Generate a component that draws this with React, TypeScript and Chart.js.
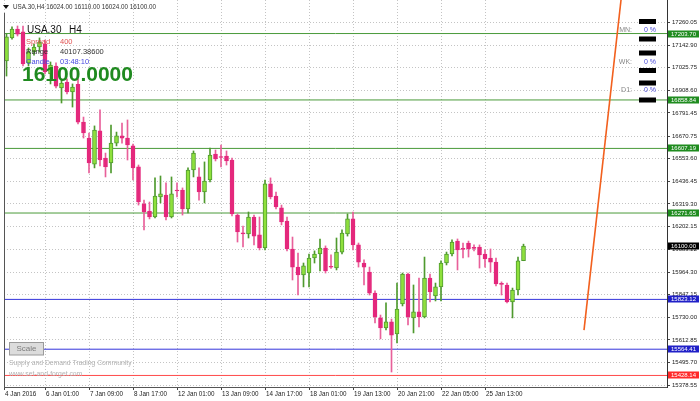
import React, { useEffect, useRef } from "react";
import { Chart, registerables } from "chart.js";

Chart.register(...registerables);

// ---------- data ----------
const symbol = "USA.30";
const timeframe = "H4";

const xTickPositions = [-0.455, 7, 15, 23, 31, 39, 47, 55, 63, 71, 79, 87];
const xTickLabels = [
  "4 Jan 2016", "6 Jan 01:00", "7 Jan 09:00", "8 Jan 17:00", "12 Jan 01:00", "13 Jan 09:00",
  "14 Jan 17:00", "18 Jan 01:00", "19 Jan 13:00", "20 Jan 21:00", "22 Jan 05:00", "25 Jan 13:00",
];

const yTicks = [
  17260.05, 17142.9, 17025.75, 16908.6, 16791.45, 16670.75, 16553.6, 16436.45, 16319.3,
  16202.15, 16083.22, 15964.3, 15847.15, 15730.0, 15612.85, 15495.7, 15378.55,
];

const opens = [
  17061, 17181, 17227, 17212, 17051, 17108, 17134, 17149, 16994, 17035,
  16921, 16952, 16900, 16940, 16744, 16661, 16526, 16698, 16557, 16532,
  16635, 16672, 16661, 16620, 16511, 16319, 16282, 16251, 16355, 16365,
  16251, 16391, 16391, 16293, 16495, 16459, 16381, 16443, 16578, 16563,
  16568, 16547, 16261, 16168, 16163, 16251, 16158, 16090, 16423, 16360,
  16298, 16230, 16085, 15991, 15950, 15960, 16038, 16059, 16090, 15994,
  15986, 16069, 16163, 16241, 16106, 16012, 15965, 15856, 15727, 15675,
  15706, 15644, 15799, 15955, 15727, 15758, 15732, 15934, 15841, 15888,
  16012, 16059, 16126, 16087, 16116, 16092, 16095, 16059, 16038, 16017,
  15905, 15898, 15810, 15872, 16024,
];
const highs = [
  17201, 17238, 17243, 17243, 17129, 17149, 17181, 17170, 17056, 17051,
  16962, 16968, 16942, 16968, 16770, 16687, 16724, 16807, 16583, 16729,
  16692, 16739, 16755, 16630, 16521, 16339, 16329, 16454, 16464, 16428,
  16459, 16428, 16402, 16506, 16594, 16506, 16537, 16609, 16599, 16625,
  16594, 16557, 16267, 16204, 16277, 16261, 16251, 16443, 16454, 16381,
  16313, 16251, 16147, 16064, 16012, 16059, 16075, 16137, 16101, 16054,
  16142, 16184, 16267, 16277, 16116, 16028, 15991, 15867, 15742, 15805,
  15721, 15908, 15960, 15960, 15898, 15934, 16043, 15955, 15908, 16023,
  16069, 16132, 16137, 16116, 16126, 16106, 16106, 16080, 16085, 16038,
  15914, 15908, 15882, 16043, 16110,
];
const lows = [
  16983, 17175, 17191, 17035, 17035, 17092, 17108, 16994, 16942, 16921,
  16843, 16890, 16822, 16734, 16661, 16480, 16506, 16516, 16459, 16480,
  16620, 16635, 16547, 16443, 16313, 16184, 16241, 16246, 16324, 16236,
  16246, 16355, 16261, 16272, 16459, 16339, 16324, 16433, 16542, 16511,
  16521, 16256, 16121, 16095, 16142, 16106, 16080, 16080, 16345, 16293,
  16210, 16075, 15924, 15846, 15888, 15888, 16012, 15971, 15960, 15984,
  15976, 16059, 16152, 16080, 15991, 15898, 15846, 15701, 15618, 15664,
  15446, 15597, 15789, 15690, 15649, 15680, 15727, 15810, 15815, 15815,
  16002, 16049, 15976, 16038, 16043, 16075, 15986, 15991, 15965, 15893,
  15846, 15805, 15727, 15846, 16024,
];
const closes = [
  17186, 17227, 17201, 17046, 17108, 17134, 17160, 17004, 17040, 16931,
  16947, 16900, 16926, 16744, 16687, 16532, 16703, 16547, 16511, 16635,
  16672, 16661, 16625, 16506, 16329, 16277, 16251, 16360, 16371, 16251,
  16371, 16386, 16293, 16495, 16583, 16381, 16438, 16573, 16552, 16560,
  16542, 16267, 16173, 16163, 16251, 16152, 16090, 16423, 16355, 16303,
  16225, 16085, 15991, 15950, 15997, 16038, 16059, 16090, 15971, 15990,
  16069, 16168, 16241, 16106, 16017, 15991, 15856, 15732, 15675, 15706,
  15638, 15773, 15955, 15732, 15758, 15732, 15934, 15862, 15888, 16012,
  16059, 16121, 16080, 16083, 16085, 16088, 16054, 16033, 16017, 15903,
  15901, 15810, 15872, 16023, 16100,
];

const greenLevels = [17203.7, 16858.84, 16607.19, 16271.65];
const blueLevels = [15823.12, 15564.41];
const redLevels = [15428.14];

// projection line (bar index, price)
const projX = [105.0, 111.73];
const projY = [15664, 17378];

const infoSpread = "400";
const infoRange = "40107.38600";
const infoCandle = "03:48:10";
const panelLabels = ["MN:", "WK:", "D1:"];
const panelValues = ["0 %", "0 %", "0 %"];
const footer1 = "Supply and Demand Trading Community";
const footer2 = "www.set-and-forget.com";

// ---------- layout / style ----------
const X_MIN = -0.455;
const X_MAX = 120.09;
const Y_MAX = 17377.9;
const Y_MIN = 15368.2;
const FONT = "'Liberation Sans', Arial, sans-serif";

const GREEN_FILL = "#8ee03c";
const GREEN_EDGE = "#4f9a2e";
const PINK = "#e4287c";
const PINK_WICK = "#e8609a";
const LEVEL_GREEN = "#4a9a3a";
const LEVEL_BLUE = "#3434dc";
const LEVEL_RED = "#ff4a4a";

export default function App() {
  const ref = useRef<HTMLCanvasElement | null>(null);

  useEffect(() => {
    document.body.style.margin = "0";
    const canvas = ref.current;
    if (!canvas) return;

    const idx = closes.map((_, i) => i);
    const up = idx.map((i) => closes[i] >= opens[i]);
    const bodyData = idx.map((i) => ({
      x: i,
      y: [Math.min(opens[i], closes[i]), Math.max(opens[i], closes[i])],
    }));
    const wickData = idx.map((i) => ({ x: i, y: [lows[i], highs[i]] }));

    const levelDs = (p: number, color: string) => ({
      type: "line" as const,
      data: [
        { x: X_MIN, y: p },
        { x: X_MAX, y: p },
      ],
      borderColor: color,
      borderWidth: 1,
      pointRadius: 0,
      order: 6,
    });

    const last = closes.length - 1;

    const overlay = {
      id: "overlay",
      afterDraw(chart: any) {
        const c = chart.ctx as CanvasRenderingContext2D;
        const ys = chart.scales.y;
        const area = chart.chartArea;
        c.save();
        // left frame
        c.strokeStyle = "#555";
        c.lineWidth = 1;
        c.beginPath();
        c.moveTo(area.left + 0.5, 13);
        c.lineTo(area.left + 0.5, area.bottom);
        c.stroke();

        // header
        c.fillStyle = "#111";
        c.beginPath();
        c.moveTo(3, 5);
        c.lineTo(9, 5);
        c.lineTo(6, 9);
        c.closePath();
        c.fill();
        c.font = `6.3px ${FONT}`;
        c.fillStyle = "#333";
        c.textBaseline = "middle";
        c.textAlign = "left";
        c.fillText(
          `${symbol},${timeframe} ${opens[last].toFixed(2)} ${highs[last].toFixed(2)} ${lows[last].toFixed(2)} ${closes[last].toFixed(2)}`,
          13,
          7
        );

        // info block
        c.font = `10px ${FONT}`;
        c.fillStyle = "#111";
        c.fillText(symbol, 27, 30);
        c.fillText(timeframe, 69, 30);
        c.font = `7.5px ${FONT}`;
        c.fillStyle = "#e05252";
        c.fillText("Spread", 26, 42);
        c.fillText(infoSpread, 60, 42);
        c.fillStyle = "#333";
        c.fillText("Range", 26, 52);
        c.fillText(infoRange, 60, 52);
        c.fillStyle = "#4848e0";
        c.fillText("Candle", 26, 61.5);
        c.fillText(infoCandle, 60, 61.5);
        c.font = `bold 21px ${FONT}`;
        c.fillStyle = "#1f8a1f";
        c.fillText(closes[last].toFixed(4), 22, 75);

        // right panel
        const blocksY = [19, 36.5, 50.5, 68, 80.5, 97.5];
        c.fillStyle = "#000";
        blocksY.forEach((y) => c.fillRect(639, y, 17, 5));
        const labY = [30.5, 62, 90.5];
        c.font = `7px ${FONT}`;
        panelLabels.forEach((t, k) => {
          c.textAlign = "right";
          c.fillStyle = "#888";
          c.fillText(t, 632, labY[k]);
          c.textAlign = "left";
          c.fillStyle = "#4a4ad8";
          c.fillText(panelValues[k], 644, labY[k]);
        });

        // scale button and footer texts
        c.fillStyle = "#dcdcdc";
        c.fillRect(9.5, 342.5, 34, 12.5);
        c.strokeStyle = "#9a9a9a";
        c.strokeRect(9.5, 342.5, 34, 12.5);
        c.fillStyle = "#7c7c7c";
        c.font = `8px ${FONT}`;
        c.textAlign = "center";
        c.fillText("Scale", 26.5, 349);
        c.textAlign = "left";
        c.fillStyle = "#b2b2b2";
        c.font = `6.8px ${FONT}`;
        c.fillText(footer1, 9, 363.5);
        c.fillText(footer2, 9, 374.5);

        // price tags on the axis
        const tag = (p: number, color: string) => {
          const y = ys.getPixelForValue(p);
          c.fillStyle = color;
          c.fillRect(668, Math.round(y) - 3.5, 31, 7);
          c.fillStyle = "#fff";
          c.font = `6px ${FONT}`;
          c.textAlign = "left";
          c.fillText(p.toFixed(2), 671, Math.round(y));
        };
        greenLevels.forEach((p) => tag(p, "#1f8c1f"));
        blueLevels.forEach((p) => tag(p, "#2020c8"));
        redLevels.forEach((p) => tag(p, "#ff2a2a"));
        tag(closes[last], "#000");
        c.restore();
      },
    };

    const chart = new Chart(canvas, {
      type: "bar",
      data: {
        datasets: [
          ...greenLevels.map((p) => levelDs(p, LEVEL_GREEN)),
          ...blueLevels.map((p) => levelDs(p, LEVEL_BLUE)),
          ...redLevels.map((p) => levelDs(p, LEVEL_RED)),
          {
            type: "bar",
            data: wickData as any,
            backgroundColor: up.map((u) => (u ? GREEN_EDGE : PINK_WICK)),
            borderWidth: 0,
            barThickness: 1,
            grouped: false,
            minBarLength: 1,
            order: 3,
          } as any,
          {
            type: "bar",
            data: bodyData as any,
            backgroundColor: up.map((u) => (u ? GREEN_FILL : PINK)),
            borderColor: up.map((u) => (u ? GREEN_EDGE : PINK)),
            borderWidth: 1,
            borderSkipped: false,
            barThickness: 4,
            grouped: false,
            minBarLength: 1,
            order: 2,
          } as any,
          {
            type: "line",
            data: projX.map((x, k) => ({ x, y: projY[k] })),
            borderColor: "#f2601e",
            borderWidth: 1.6,
            pointRadius: 0,
            order: 1,
          } as any,
        ],
      },
      options: {
        responsive: false,
        maintainAspectRatio: false,
        animation: false,
        devicePixelRatio: 1,
        layout: { padding: { left: 4, top: 0, right: 0, bottom: 0 } },
        plugins: { legend: { display: false }, tooltip: { enabled: false } },
        scales: {
          x: {
            type: "linear",
            min: X_MIN,
            max: X_MAX,
            offset: false,
            bounds: "data",
            grid: {
              offset: false,
              color: "#c4c4c4",
              lineWidth: 1,
              drawTicks: true,
              tickLength: 3,
              tickColor: "#444",
            },
            border: { display: true, color: "#555", dash: [1, 2] },
            afterBuildTicks: (s: any) => {
              s.ticks = xTickPositions.map((v) => ({ value: v }));
            },
            afterFit: (s: any) => {
              s.height = 14;
              s.paddingLeft = 0;
              s.paddingRight = 0;
              s.paddingTop = 0;
              s.paddingBottom = 0;
            },
            ticks: {
              autoSkip: false,
              maxRotation: 0,
              minRotation: 0,
              align: "start",
              labelOffset: 1,
              padding: 0,
              color: "#222",
              font: { family: FONT, size: 6.3 },
              callback: (_v: any, i: number) => xTickLabels[i],
            },
          } as any,
          y: {
            type: "linear",
            position: "right",
            min: Y_MIN,
            max: Y_MAX,
            bounds: "data",
            grid: {
              color: "#c4c4c4",
              lineWidth: 1,
              drawTicks: true,
              tickLength: 3,
              tickColor: "#444",
            },
            border: { display: true, color: "#333", dash: [1, 2] },
            afterBuildTicks: (s: any) => {
              s.ticks = yTicks.map((v) => ({ value: v }));
            },
            afterFit: (s: any) => {
              s.width = 33;
              s.paddingTop = 0;
              s.paddingBottom = 0;
              s.paddingLeft = 0;
              s.paddingRight = 0;
            },
            ticks: {
              autoSkip: false,
              padding: 2,
              color: "#222",
              font: { family: FONT, size: 6 },
              callback: (v: any) => Number(v).toFixed(2),
            },
          } as any,
        },
      },
      plugins: [overlay],
    });

    return () => chart.destroy();
  }, []);

  return (
    <div style={{ position: "absolute", left: 0, top: 0, width: 700, height: 401, background: "#fff" }}>
      <canvas ref={ref} width={700} height={401} style={{ display: "block", width: 700, height: 401 }} />
    </div>
  );
}
